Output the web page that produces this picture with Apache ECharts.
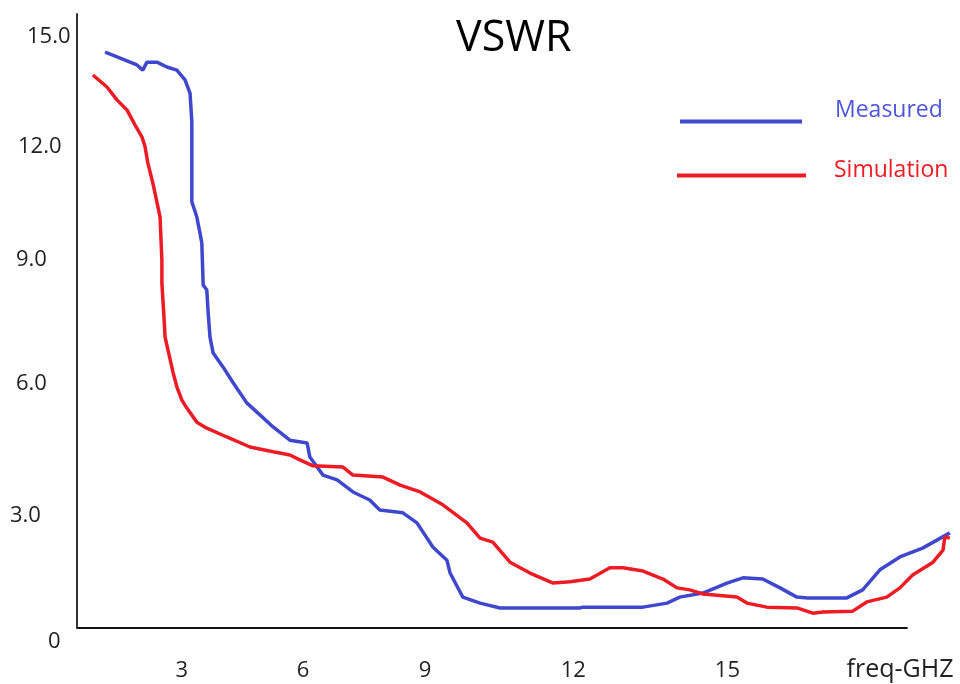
<!DOCTYPE html>
<html>
<head>
<meta charset="utf-8">
<script src="https://cdn.jsdelivr.net/npm/echarts@6/dist/echarts.min.js"></script>
<style>html,body{margin:0;padding:0;background:#fff}#c{width:960px;height:684px}</style>
</head>
<body>
<div id="c"></div>
<script>
// Measured VSWR
const measuredFreq = [1.62,2.32,2.45,2.54,2.76,2.98,3.20,3.38,3.49,3.53,3.53,3.64,3.71,3.75,3.78,3.86,3.89,3.93,4.00,4.22,4.44,4.74,5.03,5.32,5.69,6.07,6.13,6.42,6.73,7.08,7.45,7.67,8.18,8.49,8.84,9.15,9.22,9.50,9.88,10.32,12.08,12.15,13.47,14.00,14.28,14.79,15.32,15.67,16.11,16.49,16.86,17.10,17.96,18.31,18.69,19.13,19.63,20.23];
const measuredVswr = [14.35,14.03,13.90,14.10,14.10,13.98,13.90,13.66,13.33,12.61,10.62,10.24,9.84,9.59,8.55,8.42,7.85,7.25,6.85,6.50,6.11,5.61,5.31,5.01,4.68,4.61,4.26,3.81,3.69,3.39,3.19,2.94,2.87,2.62,2.02,1.69,1.37,0.77,0.62,0.50,0.50,0.52,0.52,0.62,0.77,0.87,1.12,1.25,1.22,1.00,0.77,0.75,0.75,0.95,1.45,1.77,1.99,2.37];
// Simulation VSWR
const simFreq = [1.35,1.66,1.88,2.10,2.28,2.43,2.50,2.56,2.67,2.76,2.83,2.87,2.87,2.92,2.94,3.12,3.20,3.31,3.42,3.64,3.86,4.30,4.81,5.32,5.69,5.91,6.20,6.86,7.08,7.74,8.12,8.56,9.06,9.59,9.88,10.16,10.54,10.98,11.49,11.86,12.30,12.74,13.03,13.47,13.91,14.22,14.50,14.79,15.54,15.76,16.20,16.86,17.21,17.43,18.09,18.40,18.84,19.13,19.41,19.86,20.08,20.12,20.23];
const simVswr = [13.78,13.48,13.16,12.91,12.53,12.24,11.99,11.59,11.09,10.62,10.24,9.17,8.60,7.67,7.25,6.35,6.01,5.68,5.48,5.13,4.98,4.76,4.51,4.39,4.31,4.19,4.04,4.01,3.81,3.76,3.56,3.39,3.07,2.62,2.24,2.14,1.64,1.37,1.12,1.15,1.22,1.50,1.50,1.42,1.22,1.00,0.95,0.85,0.77,0.62,0.52,0.50,0.37,0.40,0.42,0.65,0.77,1.00,1.32,1.64,1.94,2.27,2.24];
const xTicks = [3, 6, 9, 12, 15];
const yTicks = [0, 3, 6, 9, 12, 15];
const seriesNames = ['Measured', 'Simulation'];
const xAxisLineExtent = [1, 19.3];

const FONT = 'Open Sans';
const pair = (xs, ys) => xs.map((x, i) => [x, ys[i]]);

const yRich = {
  y0: {padding: [28, 0, 0, 38]},
  y3: {padding: [17, 0, 0, 0]},
  y6: {padding: [0, 0, 6, 6]},
  y9: {padding: [0, 0, 14, 6]},
  y12: {padding: [1, 0, 0, 8]},
  y15: {padding: [22, 0, 0, 17]}
};
const xRich = {
  x3: {padding: [0, 0, 0, 28]},
  x6: {padding: [0, 2, 0, 0]},
  x9: {padding: [0, 30, 0, 0]},
  x12: {padding: [0, 6, 0, 0]},
  x15: {padding: [0, 0, 0, 30]}
};
[yRich, xRich].forEach(r => Object.keys(r).forEach(k => {
  r[k].fontFamily = FONT; r[k].fontSize = 22; r[k].color = '#222';
}));

const legendBase = {
  orient: 'vertical',
  padding: 0,
  itemHeight: 4,
  icon: 'rect'
};

const chart = echarts.init(document.getElementById('c'), null, {renderer: 'canvas'});
chart.setOption({
  backgroundColor: '#fff',
  animation: false,
  title: {
    text: 'VSWR',
    left: 451,
    top: 12,
    textStyle: {fontFamily: FONT, fontSize: 43, fontWeight: 'normal', color: '#000'}
  },
  legend: [
    Object.assign({}, legendBase, {
      left: 680, top: 99, itemWidth: 122,
      data: [seriesNames[0]],
      formatter: n => '{m|' + n + '}',
      textStyle: {fontFamily: FONT, fontSize: 23, rich: {m: {fontFamily: FONT, fontSize: 23, color: '#4F55D8', padding: [0, 0, 22, 28]}}}
    }),
    Object.assign({}, legendBase, {
      left: 677, top: 159, itemWidth: 129,
      data: [seriesNames[1]],
      formatter: n => '{s|' + n + '}',
      textStyle: {fontFamily: FONT, fontSize: 23, rich: {s: {fontFamily: FONT, fontSize: 23, color: '#ED1C24', padding: [0, 0, 10, 23]}}}
    })
  ],
  grid: {left: 77, right: 7, top: 14, bottom: 56, containLabel: false},
  xAxis: {
    type: 'value',
    min: 1,
    max: 20.3,
    name: 'freq-GHZ',
    nameLocation: 'end',
    nameGap: -53,
    nameTextStyle: {fontFamily: FONT, fontSize: 25, color: '#222', align: 'center', verticalAlign: 'top', padding: [29, 0, 0, 0]},
    axisLine: {show: false},
    axisTick: {show: false},
    splitLine: {show: false},
    axisLabel: {
      customValues: xTicks,
      margin: 32,
      formatter: v => '{x' + v + '|' + v + '}',
      rich: xRich
    }
  },
  yAxis: {
    type: 'value',
    min: 0,
    max: 15.3,
    axisLine: {show: true, lineStyle: {color: '#333', width: 2}},
    axisTick: {show: false},
    splitLine: {show: false},
    axisLabel: {
      customValues: yTicks,
      align: 'left',
      margin: 67,
      formatter: v => '{y' + v + '|' + (v === 0 ? '0' : v.toFixed(1)) + '}',
      rich: yRich
    }
  },
  series: [
    {
      name: seriesNames[0], type: 'line', data: pair(measuredFreq, measuredVswr),
      showSymbol: false, clip: false, color: '#3F48CC',
      lineStyle: {width: 3.5, color: '#3F48CC'},
      markLine: {
        silent: true,
        symbol: ['none', 'none'],
        label: {show: false},
        lineStyle: {color: '#111', width: 2, type: 'solid'},
        emphasis: {disabled: true},
        data: [[{coord: [xAxisLineExtent[0], 0]}, {coord: [xAxisLineExtent[1], 0]}]]
      }
    },
    {
      name: seriesNames[1], type: 'line', data: pair(simFreq, simVswr),
      showSymbol: false, clip: false, color: '#ED1C24',
      lineStyle: {width: 3.5, color: '#ED1C24'}
    }
  ]
});
</script>
</body>
</html>
